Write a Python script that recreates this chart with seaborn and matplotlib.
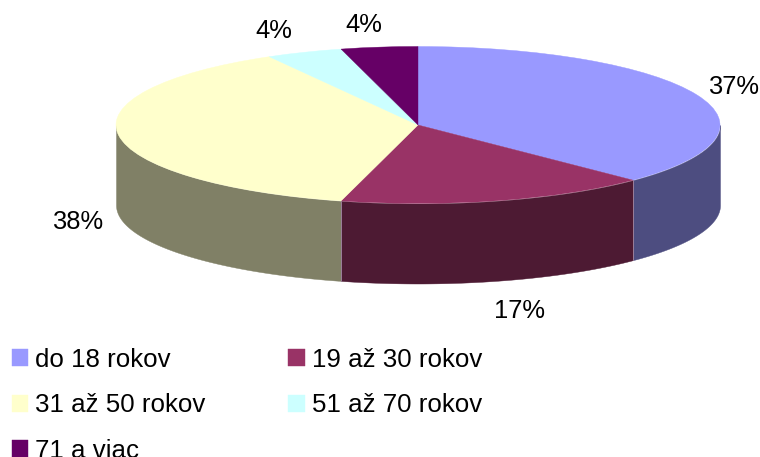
# ------------------------------------------ LOAD PACKAGES ---------------------------------------------------#
import numpy as np
import matplotlib
matplotlib.use('Agg')
import matplotlib.pyplot as plt
import seaborn as sns

# ------------------------------------------ USER VARIABLES ------------------------------------------------#
categories = ['do 18 rokov', '19 až 30 rokov', '31 až 50 rokov', '51 až 70 rokov', '71 a viac']
shares = [37.4, 16.7, 37.7, 4.1, 4.1]
colors = ['#9999FF', '#993366', '#FFFFCC', '#CCFFFF', '#660066']

W, H = 760, 457
cx, cy, rx, ry = 418, 125, 302, 78.5
depth = 80 / ry

# ------------------------------------------ PLOT ------------------------------------------------#
sns.set_theme(style='white')
plt.rcParams['font.family'] = ['Liberation Sans', 'DejaVu Sans']

fig = plt.figure(figsize=(W / 100, H / 100), dpi=100)
ax = fig.add_axes([0, 0, 1, 1])

palette = sns.color_palette(colors)
wedges, _ = ax.pie(shares, colors=palette, startangle=90, counterclock=False, radius=1,
                   wedgeprops={'linewidth': 0.3, 'zorder': 3})
for w in wedges:
    w.set_edgecolor(w.get_facecolor())
ax.set_aspect('auto')
ax.set_xlim(-cx / rx, (W - cx) / rx)
ax.set_ylim((cy - H) / ry, cy / ry)
ax.axis('off')

# side wall, only the part of the rim facing the viewer
edges = np.cumsum([0] + shares) / np.sum(shares) * 360
for i, col in enumerate(palette):
    a0, a1 = max(edges[i], 90), min(edges[i + 1], 270)
    if a0 >= a1:
        continue
    t = np.radians(np.linspace(a0, a1, 120))
    ax.fill_between(np.sin(t), np.cos(t), np.cos(t) - depth, zorder=1, linewidth=0.3,
                    color=np.array(col) * 0.5)

# thin light seam where two side segments meet
for e in edges:
    if 90 < e < 270:
        t = np.radians(e)
        ax.plot([np.sin(t)] * 2, [np.cos(t), np.cos(t) - depth], color='#9a7f9a', lw=0.7, zorder=2)

# percent labels
label_pos = [(734, 87), (520, 311), (78, 222), (274, 31), (364, 25)]
for s, (x, y) in zip(shares, label_pos):
    fig.text(x / W, 1 - y / H, '{0:.0f}%'.format(s), ha='center', va='center', fontsize=18.4, color='black')

# legend, filled column by column
order = [0, 2, 4, 1, 3]
fig.legend([wedges[i] for i in order], [categories[i] for i in order], ncol=2, loc='upper left',
           bbox_to_anchor=(12 / W, 1 - 348 / H), frameon=False, fontsize=18.6, borderpad=0,
           borderaxespad=0, handlelength=0.63, handleheight=0.63, handletextpad=0.27,
           columnspacing=3.2, labelspacing=0.83, labelcolor='black')

plt.savefig('out.png', dpi=100)
